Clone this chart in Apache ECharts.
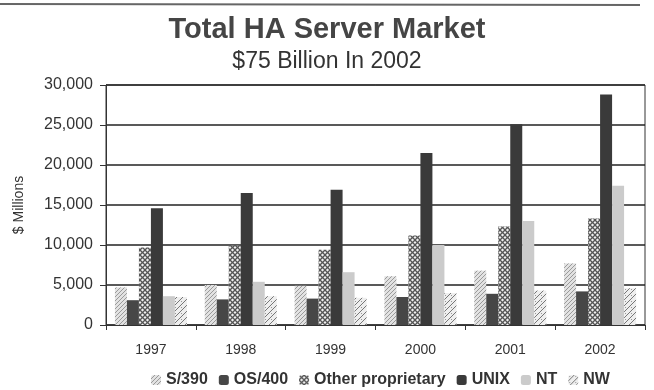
<!DOCTYPE html>
<html><head><meta charset="utf-8">
<script src="https://cdn.jsdelivr.net/npm/echarts@6/dist/echarts.min.js"></script>
<style>html,body{margin:0;padding:0;background:#fff}#c{width:654px;height:390px}</style>
</head><body><div id="c"></div>
<script>
const categories = ['1997','1998','1999','2000','2001','2002'];
const seriesNames = ['S/390','OS/400','Other proprietary','UNIX','NT','NW'];
const s390 = [4700, 5000, 4900, 6100, 6800, 7700];
const os400 = [3100, 3200, 3300, 3500, 3900, 4200];
const otherProp = [9700, 9900, 9400, 11200, 12300, 13300];
const unix = [14600, 16500, 16900, 21500, 25100, 28800];
const nt = [3600, 5400, 6600, 10000, 13000, 17400];
const nw = [3500, 3600, 3400, 4000, 4300, 4600];
const yTicks = [0, 5000, 10000, 15000, 20000, 25000, 30000];

function pattern(bg, draw, size) {
  const c = document.createElement('canvas');
  c.width = size; c.height = size;
  const g = c.getContext('2d');
  g.fillStyle = bg; g.fillRect(0, 0, size, size);
  draw(g, size);
  return { image: c, repeat: 'repeat' };
}
const pS390 = pattern('#e2e2e2', (g, s) => {
  g.strokeStyle = '#9a9a9a'; g.lineWidth = 1;
  for (let i = -s; i <= s; i += 4) { g.beginPath(); g.moveTo(i, s); g.lineTo(i + s, 0); g.stroke(); }
}, 8);
const pOther = pattern('#f0f0f0', (g, s) => {
  g.strokeStyle = '#555'; g.lineWidth = 1.3;
  g.beginPath(); g.moveTo(0, 0); g.lineTo(s, s); g.stroke();
  g.beginPath(); g.moveTo(s, 0); g.lineTo(0, s); g.stroke();
}, 5);
const pNW = pattern('#eeeeee', (g, s) => {
  g.strokeStyle = '#777'; g.lineWidth = 1;
  g.beginPath(); g.moveTo(0, s); g.lineTo(s, 0); g.stroke();
  g.fillStyle = '#999'; g.fillRect(1, 1, 1, 1);
}, 6);

const colors = [pS390, '#474747', pOther, '#3a3a3a', '#cbcbcb', pNW];
const dataSets = [s390, os400, otherProp, unix, nt, nw];

const chart = echarts.init(document.getElementById('c'), null, { renderer: 'canvas' });
chart.setOption({
  animation: false,
  textStyle: { fontFamily: 'Liberation Sans, Arial, sans-serif' },
  title: [
    { text: 'Total HA Server Market', left: 'center', top: 10,
      textStyle: { fontSize: 29, fontWeight: 'bold', color: '#454545', fontFamily: 'Liberation Sans, Arial, sans-serif' } },
    { text: '$75 Billion In 2002', left: 'center', top: 45,
      textStyle: { fontSize: 23, fontWeight: 'normal', color: '#333', fontFamily: 'Liberation Sans, Arial, sans-serif' } }
  ],
  graphic: [{ type: 'line', shape: { x1: 0, y1: 4, x2: 640, y2: 5 }, style: { stroke: '#666', lineWidth: 2 } }],
  grid: { left: 106, right: 9, top: 85, bottom: 65, show: true, borderColor: '#333', borderWidth: 1 },
  legend: {
    data: seriesNames, top: 367, left: 146, itemWidth: 10, itemHeight: 10, itemGap: 11,
    textStyle: { fontSize: 16, fontWeight: 'bold', color: '#333' }
  },
  xAxis: {
    type: 'category', data: categories,
    axisLine: { lineStyle: { color: '#333', width: 1 } },
    axisTick: { show: true, length: 5, lineStyle: { color: '#333' } },
    axisLabel: { fontSize: 14, color: '#333', margin: 18 }
  },
  yAxis: {
    type: 'value', min: yTicks[0], max: yTicks[yTicks.length - 1], interval: 5000,
    name: '$ Millions', nameLocation: 'middle', nameGap: 80, nameRotate: 90,
    nameTextStyle: { fontSize: 14, color: '#333' },
    axisLine: { show: true, lineStyle: { color: '#333' } },
    axisTick: { show: true, length: 6, lineStyle: { color: '#333' } },
    axisLabel: { fontSize: 16, color: '#333', margin: 13, formatter: v => v.toLocaleString('en-US') },
    splitLine: { lineStyle: { color: '#222', width: 1.6 } }
  },
  series: seriesNames.map((n, i) => ({
    name: n, type: 'bar', data: dataSets[i], barWidth: 12, barGap: '0%',
    itemStyle: { color: colors[i] }
  }))
});
</script></body></html>
